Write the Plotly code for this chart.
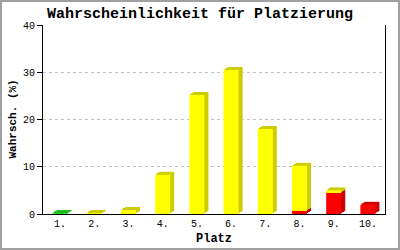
import plotly.graph_objects as go

# ---- data ----
categories = ["1.", "2.", "3.", "4.", "5.", "6.", "7.", "8.", "9.", "10."]
red_vals = [0, 0, 0, 0, 0, 0, 0, 0.65, 4.6, 1.95]
yellow_vals = [0, 0.15, 0.85, 8.3, 25.2, 30.5, 18.0, 9.55, 0.4, 0]
green_vals = [0.2, 0, 0, 0, 0, 0, 0, 0, 0, 0]
y_ticks = [0, 10, 20, 30, 40]

# ---- layout geometry ----
W, H = 400, 250
ML, MR, MT, MB = 43, 15, 25, 36
PW, PH = W - ML - MR, H - MT - MB
YMAX = 40
px_per_x = PW / len(categories)
px_per_y = PH / YMAX
BAR_W = 0.44

series = [
    (red_vals, "#ff0000", "#cc0000"),
    (yellow_vals, "#ffff00", "#cccc00"),
    (green_vals, "#22dd22", "#22bb22"),
]

# stacked bases
bases = []
acc = [0.0] * len(categories)
for vals, _, _ in series:
    bases.append(list(acc))
    acc = [a + v for a, v in zip(acc, vals)]

fig = go.Figure()
depths = [(4, 3), (3, 2), (2, 2), (1, 1)]
for dx, dy in depths:
    for (vals, front, side), base in zip(series, bases):
        fig.add_trace(go.Bar(
            x=categories, y=vals,
            base=[b + dy / px_per_y for b in base],
            offset=-BAR_W / 2 + dx / px_per_x, width=BAR_W,
            marker=dict(color=side, line=dict(width=0)),
            showlegend=False, hoverinfo="skip"))
for (vals, front, side), base in zip(series, bases):
    fig.add_trace(go.Bar(
        x=categories, y=vals, base=base,
        offset=-BAR_W / 2, width=BAR_W,
        marker=dict(color=front, line=dict(width=0)),
        showlegend=False))

mono = "Liberation Mono"
fig.update_layout(
    width=W, height=H,
    margin=dict(l=ML, r=MR, t=MT, b=MB, pad=0),
    paper_bgcolor="white", plot_bgcolor="white",
    barmode="overlay",
    title=dict(text="<b>Wahrscheinlichkeit für Platzierung</b>",
               font=dict(family=mono, size=15, color="black"),
               x=0.5, xanchor="center", xref="container",
               y=1 - 13 / H, yanchor="middle", yref="container"),
    xaxis=dict(type="category", range=[-0.5, len(categories) - 0.5],
               showline=True, linecolor="black", linewidth=1,
               showgrid=False, ticks="", zeroline=False,
               tickfont=dict(family=mono, size=10, color="black")),
    yaxis=dict(range=[0, YMAX], tickvals=y_ticks,
               showline=True, linecolor="black", linewidth=1, mirror=True,
               ticks="outside", ticklen=5, tickcolor="black",
               showgrid=True, gridcolor="#c0c0c0", griddash="3px,3px",
               zeroline=False,
               tickfont=dict(family=mono, size=10, color="black")),
    yaxis2=dict(range=[0, YMAX], tickvals=y_ticks, overlaying="y",
                side="left", anchor="x", ticks="inside", ticklen=5,
                tickcolor="black", showticklabels=False, showgrid=False,
                showline=False, zeroline=False),
    annotations=[
        dict(text="<b>Wahrsch. (%)</b>", textangle=-90,
             xref="paper", yref="paper",
             x=(12 - ML) / PW, y=0.5, xanchor="center", yanchor="middle",
             showarrow=False, font=dict(family=mono, size=11, color="black")),
        dict(text="<b>Platz</b>",
             xref="paper", yref="paper",
             x=0.5, y=(MT + PH - 239) / PH, xanchor="center", yanchor="middle",
             showarrow=False, font=dict(family=mono, size=12, color="black")),
    ],
    shapes=[dict(type="rect", xref="paper", yref="paper",
                 x0=(1 - ML) / PW, x1=(W - 1 - ML) / PW,
                 y0=(MT + PH - (H - 1)) / PH, y1=(MT + PH - 1) / PH,
                 line=dict(color="#a0a0a0", width=2), layer="above")],
)

fig.write_html("out.html")
